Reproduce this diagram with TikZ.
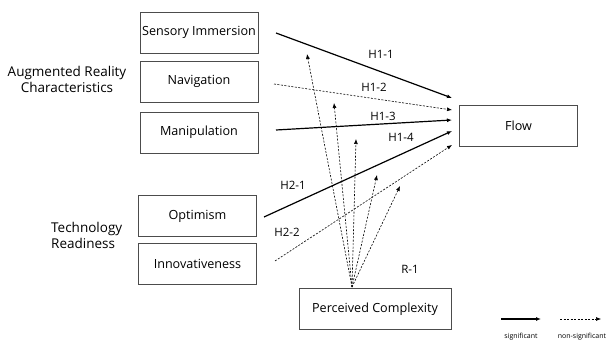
\documentclass[tikz,border=0pt]{standalone}
\usepackage{fontspec}
\setmainfont{Open Sans}
\usetikzlibrary{arrows.meta}
\begin{document}
\begin{tikzpicture}[x=1pt,y=-1pt,
  box/.style={draw=black!70,line width=0.7pt,minimum width=118pt,minimum height=41pt,inner sep=0pt,font=\fontsize{12.6}{14}\selectfont},
  sig/.style={line width=1.2pt,-{Latex[length=5pt,width=4pt]}},
  nsig/.style={line width=0.6pt,dash pattern=on 2pt off 1.5pt,-{Latex[length=5pt,width=4pt]}},
  lab/.style={font=\fontsize{11.5}{13}\selectfont},
  grp/.style={font=\fontsize{13.5}{16}\selectfont,align=center,inner sep=0pt}]
\useasboundingbox (0,0) rectangle (610,344);
\node[box] (si) at (199,32.5) {Sensory Immersion};
\node[box] (nav) at (199,81.5) {Navigation};
\node[box] (man) at (199,132.5) {Manipulation};
\node[box] (opt) at (197.5,216) {Optimism};
\node[box] (inn) at (197.5,263.5) {Innovativeness};
\node[box] (flow) at (518.5,126) {Flow};
\node[box,minimum width=152pt] (pc) at (375,309) {Perceived Complexity};
\node[grp] (arc) at (67,79) {Augmented Reality\\Characteristics};
\node[grp,align=left,anchor=west] (tr) at (51,235.5) {Technology\\Readiness};
% coordinates
\coordinate (a1s) at (276,33); \coordinate (a1e) at (452,98);
\coordinate (a2s) at (274,84); \coordinate (a2e) at (452,110);
\coordinate (a3s) at (276,130); \coordinate (a3e) at (452,120);
\coordinate (a4s) at (264,217); \coordinate (a4e) at (452,131);
\coordinate (a5s) at (275,261); \coordinate (a5e) at (452,145);
\draw[sig] (a1s) -- (a1e);
\draw[nsig] (a2s) -- (a2e);
\draw[sig] (a3s) -- (a3e);
\draw[sig] (a4s) -- (a4e);
\draw[nsig] (a5s) -- (a5e);
\coordinate (pct) at (352,287);
\coordinate (r1) at (307,54);
\coordinate (r2) at (334,103);
\coordinate (r3) at (356,139);
\coordinate (r4) at (377,175);
\coordinate (r5) at (400,186);
\foreach \t in {r1,r2,r3,r4,r5} \draw[nsig] (pct) -- (\t);
\node[lab] (h11) at (381,54) {H1-1};
\node[lab] (h12) at (374,87) {H1-2};
\node[lab] (h13) at (383,116) {H1-3};
\node[lab] (h14) at (401,137) {H1-4};
\node[lab] (h21) at (293,185) {H2-1};
\node[lab] (h22) at (287,232) {H2-2};
\node[lab] (rr1) at (410,269) {R-1};
% legend
\coordinate (l1s) at (501,319); \coordinate (l1e) at (541,319);
\coordinate (l2s) at (560,319); \coordinate (l2e) at (601,319);
\draw[sig] (l1s) -- (l1e);
\draw[nsig] (l2s) -- (l2e);
\node[font=\fontsize{7}{8}\selectfont] (ls) at (521,337) {significant};
\node[font=\fontsize{7}{8}\selectfont] (lns) at (582,337) {non-significant};
\end{tikzpicture}
\end{document}
